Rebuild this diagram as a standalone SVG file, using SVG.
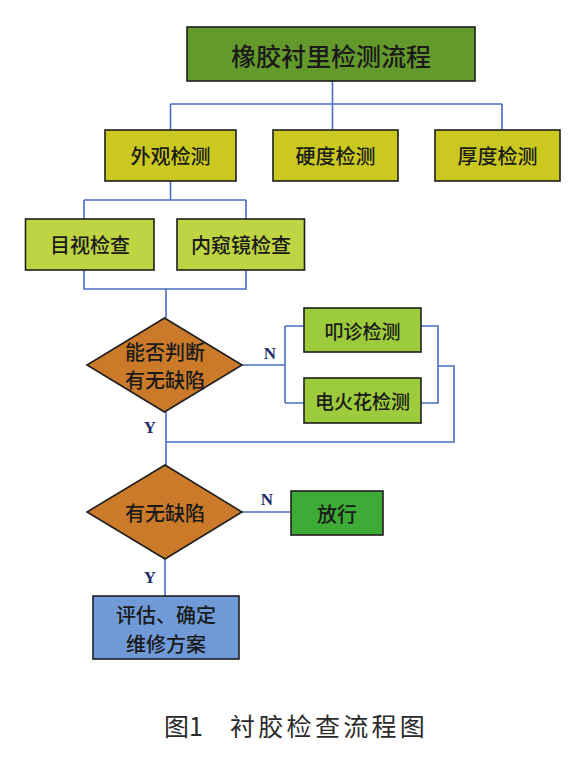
<svg xmlns="http://www.w3.org/2000/svg" width="585" height="763" viewBox="0 0 585 763">
<style>
.box{stroke:#1e1e1e;stroke-width:1.6}
.t{font-family:"Noto Sans CJK SC","Noto Sans",sans-serif;font-size:20px;fill:#1a1a1a;text-anchor:middle;dominant-baseline:central;font-weight:500}
.c{fill:none;stroke:#4a6cc2;stroke-width:1.6}
.yn{font-family:"Liberation Serif",serif;font-weight:bold;font-size:17px;fill:#1f2d6a;text-anchor:middle;dominant-baseline:central}
</style>
<rect width="585" height="763" fill="#ffffff"/>
<g id="connectors">
<path class="c" d="M332.5,81V130M170.5,104H502M170.5,104V130M502,104V130"/>
<path class="c" d="M170.5,181V200M84,200H246M84,200V219M246,200V219"/>
<path class="c" d="M84,270V289H246V270M166,289V318"/>
<path class="c" d="M242,365H285M285,326V403M285,326H304M285,403H304"/>
<path class="c" d="M421,326H438V403H421M438,366H454V442H166M166,412V465"/>
<path class="c" d="M242,512H291M165,559V596"/>
<text class="yn" x="270" y="353">N</text>
<text class="yn" x="150" y="427">Y</text>
<text class="yn" x="267" y="499">N</text>
<text class="yn" x="150" y="577">Y</text>
</g>
<g id="n-title"><rect class="box" x="187" y="27" width="288" height="54" fill="#64992b"/><text class="t" x="331" y="55" style="font-size:25px;letter-spacing:0px">橡胶衬里检测流程</text></g>
<g id="n-waiguan"><rect class="box" x="105" y="130" width="131" height="51" fill="#cbc91f"/><text class="t" x="170.5" y="155.5">外观检测</text></g>
<g id="n-yingdu"><rect class="box" x="273" y="130" width="125" height="51" fill="#cbc91f"/><text class="t" x="335.5" y="155.5">硬度检测</text></g>
<g id="n-houdu"><rect class="box" x="435" y="130" width="125" height="51" fill="#cbc91f"/><text class="t" x="497.5" y="155.5">厚度检测</text></g>
<g id="n-mushi"><rect class="box" x="25.5" y="219" width="128.5" height="51" fill="#bed442"/><text class="t" x="90" y="244.5">目视检查</text></g>
<g id="n-neikui"><rect class="box" x="177" y="219" width="127.5" height="51" fill="#bed442"/><text class="t" x="241" y="244.5">内窥镜检查</text></g>
<g id="n-d1"><polygon class="box" points="164.5,318 242,365 164.5,412 87,365" fill="#cb7a2a"/><text class="t" x="165" y="351">能否判断</text><text class="t" x="165" y="379">有无缺陷</text></g>
<g id="n-kouzhen"><rect class="box" x="304" y="308" width="117" height="44" fill="#9ccb3b"/><text class="t" x="362.5" y="330" style="font-size:19px">叩诊检测</text></g>
<g id="n-dianhuohua"><rect class="box" x="304" y="378" width="117" height="45" fill="#9ccb3b"/><text class="t" x="362.5" y="400.5" style="font-size:19px">电火花检测</text></g>
<g id="n-d2"><polygon class="box" points="165,465 242,512 165,559 87,512" fill="#cb7a2a"/><text class="t" x="165" y="512">有无缺陷</text></g>
<g id="n-fangxing"><rect class="box" x="291" y="491" width="92" height="44" fill="#3dab36"/><text class="t" x="337" y="513">放行</text></g>
<g id="n-pinggu"><rect class="box" x="93" y="596" width="146" height="63" fill="#6f9ad7"/><text class="t" x="166" y="614">评估、确定</text><text class="t" x="166" y="643">维修方案</text></g>
<g id="caption" font-family="Noto Sans CJK SC, Noto Sans, sans-serif" font-size="25" fill="#2a2a2a"><text x="164" y="736">图1</text><text x="230" y="736" letter-spacing="3.3">衬胶检查流程图</text></g>
</svg>
